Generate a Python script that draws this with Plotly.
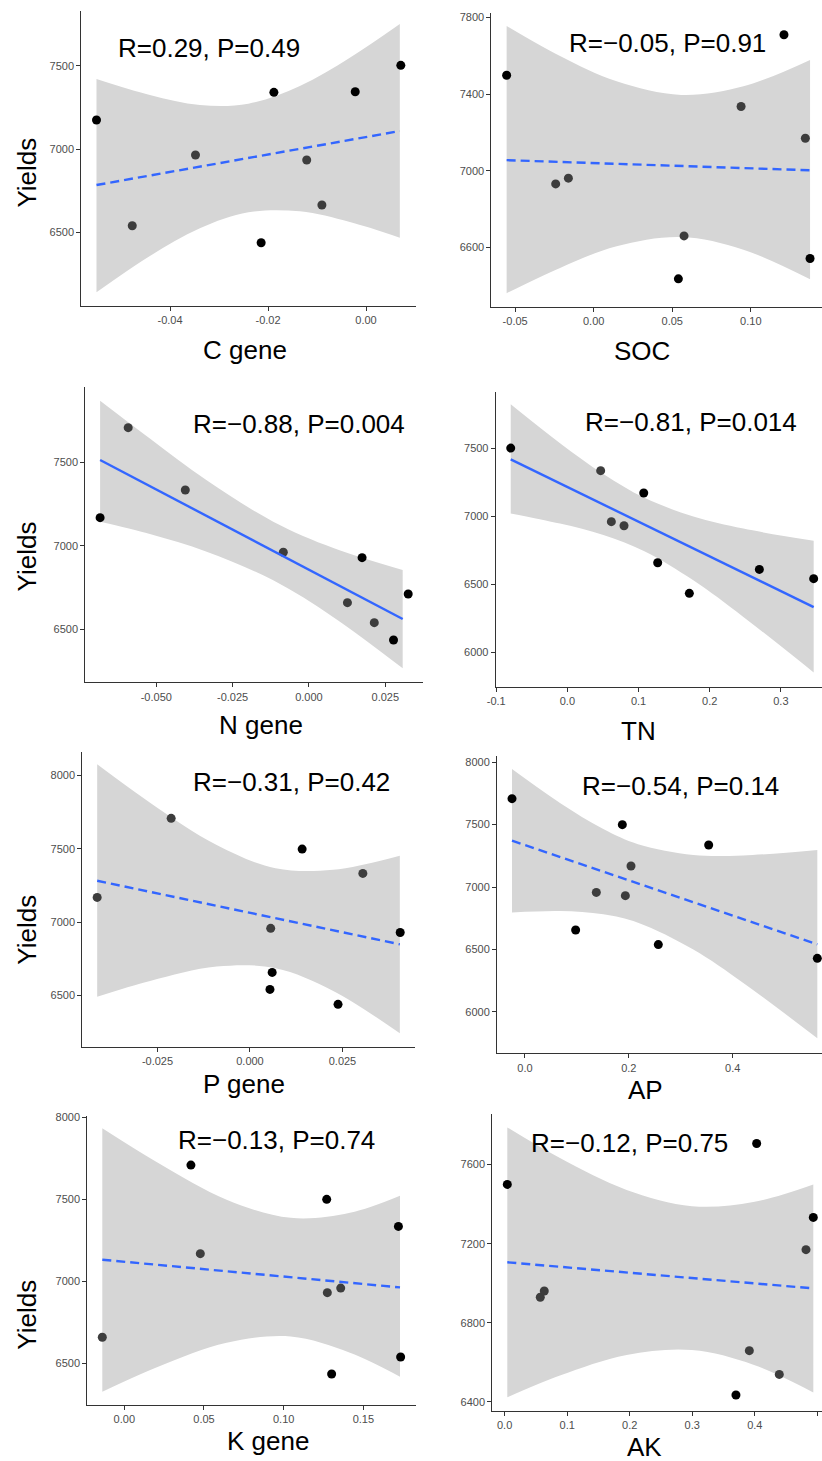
import plotly.graph_objects as go

W, H = 822, 1461
FONT = "Liberation Sans, Arial, Helvetica, sans-serif"

# ---- values ----
# C gene
c_gene_x = [-0.0550, -0.0477, -0.0348, -0.0214, -0.0188, -0.0121, -0.0090, -0.0022, 0.0071]
c_gene_yield = [7174, 6540, 6964, 6438, 7340, 6934, 6664, 7344, 7502]
c_gene_band_x = [-0.0550, -0.0441, -0.0339, -0.0240, -0.0135, -0.0033, 0.0069]
c_gene_band_hi = [7420, 7324, 7264, 7272, 7378, 7548, 7750]
c_gene_band_lo = [6140, 6358, 6524, 6620, 6626, 6562, 6468]
c_gene_fit = [6784, 7108]
c_gene_stat = "R=0.29, P=0.49"

# SOC
soc_x = [-0.0554, -0.0242, -0.0161, 0.0539, 0.0575, 0.0938, 0.1211, 0.1347, 0.1377]
soc_yield = [7499, 6932, 6962, 6437, 6661, 7336, 7710, 7170, 6543]
soc_band_x = [-0.0554, -0.0214, 0.0146, 0.0556, 0.0953, 0.1377]
soc_band_hi = [7756, 7599, 7467, 7396, 7441, 7579]
soc_band_lo = [6362, 6494, 6607, 6655, 6589, 6435]
soc_fit = [7056, 7003]
soc_stat = "R=\u22120.05, P=0.91"

# N gene
n_gene_x = [-0.0684, -0.0592, -0.0405, -0.0084, 0.0126, 0.0174, 0.0214, 0.0277, 0.0325]
n_gene_yield = [7170, 7710, 7336, 6962, 6660, 6930, 6540, 6436, 6712]
n_gene_band_x = [-0.0684, -0.0521, -0.0335, -0.0117, 0.0080, 0.0307]
n_gene_band_hi = [7872, 7645, 7394, 7146, 6988, 6856]
n_gene_band_lo = [7146, 7072, 6966, 6794, 6573, 6266]
n_gene_fit = [7516, 6562]
n_gene_stat = "R=\u22120.88, P=0.004"

# TN
tn_x = [-0.0796, 0.0468, 0.0618, 0.0796, 0.1073, 0.1269, 0.1714, 0.2698, 0.3461]
tn_yield = [7502, 7336, 6961, 6931, 7172, 6659, 6434, 6610, 6542]
tn_band_x = [-0.0796, -0.0103, 0.0506, 0.1082, 0.1770, 0.2473, 0.3461]
tn_band_hi = [7824, 7538, 7311, 7136, 6999, 6910, 6821]
tn_band_lo = [7022, 6947, 6863, 6744, 6530, 6261, 5853]
tn_fit = [7419, 6333]
tn_stat = "R=\u22120.81, P=0.014"

# P gene
p_gene_x = [-0.0413, -0.0213, 0.0056, 0.0141, 0.0060, 0.0054, 0.0238, 0.0305, 0.0406]
p_gene_yield = [7168, 7708, 6957, 7498, 6656, 6540, 6438, 7332, 6929]
p_gene_band_x = [-0.0413, -0.0270, -0.0090, 0.0069, 0.0225, 0.0405]
p_gene_band_hi = [8077, 7815, 7526, 7368, 7357, 7453]
p_gene_band_lo = [6490, 6598, 6696, 6685, 6530, 6240]
p_gene_fit = [7282, 6848]
p_gene_stat = "R=\u22120.31, P=0.42"

# AP
ap_x = [-0.0250, 0.0976, 0.1374, 0.1875, 0.1933, 0.2042, 0.2568, 0.3538, 0.5631]
ap_yield = [7707, 6656, 6957, 7499, 6931, 7168, 6539, 7336, 6429]
ap_band_x = [-0.0250, 0.0674, 0.1509, 0.2177, 0.3242, 0.4205, 0.5631]
ap_band_hi = [7944, 7673, 7464, 7343, 7257, 7253, 7296]
ap_band_lo = [6795, 6807, 6781, 6714, 6499, 6232, 5789]
ap_fit = [7371, 6541]
ap_stat = "R=\u22120.54, P=0.14"

# K gene
k_gene_x = [-0.0138, 0.0418, 0.0477, 0.1270, 0.1274, 0.1358, 0.1301, 0.1720, 0.1734]
k_gene_yield = [6659, 7709, 7169, 7500, 6931, 6959, 6435, 7335, 6539]
k_gene_band_x = [-0.0138, 0.0224, 0.0642, 0.1044, 0.1416, 0.1730]
k_gene_band_hi = [7933, 7715, 7498, 7387, 7418, 7522]
k_gene_band_lo = [6327, 6484, 6625, 6664, 6565, 6419]
k_gene_fit = [7132, 6963]
k_gene_stat = "R=\u22120.13, P=0.74"

# AK
ak_x = [0.0043, 0.0570, 0.0634, 0.3699, 0.3913, 0.4030, 0.4392, 0.4819, 0.4936]
ak_yield = [7500, 6929, 6961, 6435, 6659, 7707, 6539, 7170, 7333]
ak_band_x = [0.0043, 0.0885, 0.1951, 0.2996, 0.3977, 0.4936]
ak_band_hi = [7788, 7633, 7472, 7390, 7411, 7500]
ak_band_lo = [6423, 6533, 6637, 6662, 6588, 6448]
ak_fit = [7106, 6974]
ak_stat = "R=\u22120.12, P=0.75"

# point tone per panel: 1 = black, 0 = dark grey
c_gene_tone = [1, 0, 0, 1, 1, 0, 0, 1, 1]
soc_tone = [1, 0, 0, 1, 0, 0, 1, 0, 1]
n_gene_tone = [1, 0, 0, 0, 0, 1, 0, 1, 1]
tn_tone = [1, 0, 0, 0, 1, 1, 1, 1, 1]
p_gene_tone = [0, 0, 0, 1, 1, 1, 1, 0, 1]
ap_tone = [1, 1, 0, 1, 0, 0, 1, 1, 1]
k_gene_tone = [0, 1, 0, 1, 0, 0, 1, 1, 1]
ak_tone = [1, 0, 0, 1, 0, 1, 0, 0, 1]

panels = [
    dict(name="C gene", x=c_gene_x, y=c_gene_yield, tone=c_gene_tone, bx=c_gene_band_x,
         hi=c_gene_band_hi, lo=c_gene_band_lo, fit=c_gene_fit, stat=c_gene_stat, dash=True,
         box=(81.3, 416, 10.7, 305.7), xr=[-0.0581, 0.0102], yr=[6060, 7830],
         xt=[-0.04, -0.02, 0.0], xl=["-0.04", "-0.02", "0.00"], yt=[6500, 7000, 7500],
         stat_xy=(208.7, 48.3), title_xy=(245.3, 350), ylab=(27.3, 172.3)),
    dict(name="SOC", x=soc_x, y=soc_yield, tone=soc_tone, bx=soc_band_x,
         hi=soc_band_hi, lo=soc_band_lo, fit=soc_fit, stat=soc_stat, dash=True,
         box=(491.4, 822, 13.3, 307), xr=[-0.0651, 0.1453], yr=[6290, 7822],
         xt=[-0.05, 0.0, 0.05, 0.10], xl=["-0.05", "0.00", "0.05", "0.10"],
         yt=[6600, 7000, 7400, 7800],
         stat_xy=(667.7, 43.3), title_xy=(641.7, 350.7), ylab=None),
    dict(name="N gene", x=n_gene_x, y=n_gene_yield, tone=n_gene_tone, bx=n_gene_band_x,
         hi=n_gene_band_hi, lo=n_gene_band_lo, fit=n_gene_fit, stat=n_gene_stat, dash=False,
         box=(85.3, 423.3, 387.3, 682.3), xr=[-0.07325, 0.03745], yr=[6182, 7952],
         xt=[-0.05, -0.025, 0.0, 0.025], xl=["-0.050", "-0.025", "0.000", "0.025"],
         yt=[6500, 7000, 7500],
         stat_xy=(299.3, 424), title_xy=(260.5, 724.6), ylab=(26.7, 556.7)),
    dict(name="TN", x=tn_x, y=tn_yield, tone=tn_tone, bx=tn_band_x,
         hi=tn_band_hi, lo=tn_band_lo, fit=tn_fit, stat=tn_stat, dash=False,
         box=(495.7, 822, 392.3, 686.7), xr=[-0.1007, 0.3578], yr=[5748, 7912],
         xt=[-0.1, 0.0, 0.1, 0.2, 0.3], xl=["-0.1", "0.0", "0.1", "0.2", "0.3"],
         yt=[6000, 6500, 7000, 7500],
         stat_xy=(691, 422.3), title_xy=(638, 731), ylab=None),
    dict(name="P gene", x=p_gene_x, y=p_gene_yield, tone=p_gene_tone, bx=p_gene_band_x,
         hi=p_gene_band_hi, lo=p_gene_band_lo, fit=p_gene_fit, stat=p_gene_stat, dash=True,
         box=(82.3, 415.3, 751.7, 1046.7), xr=[-0.04532, 0.04468], yr=[6149, 8163],
         xt=[-0.025, 0.0, 0.025], xl=["-0.025", "0.000", "0.025"],
         yt=[6500, 7000, 7500, 8000],
         stat_xy=(291, 782.3), title_xy=(244, 1084), ylab=(26.7, 930)),
    dict(name="AP", x=ap_x, y=ap_yield, tone=ap_tone, bx=ap_band_x,
         hi=ap_band_hi, lo=ap_band_lo, fit=ap_fit, stat=ap_stat, dash=True,
         box=(497, 822, 755.7, 1053.3), xr=[-0.0539, 0.5721], yr=[5669, 8051],
         xt=[0.0, 0.2, 0.4], xl=["0.0", "0.2", "0.4"],
         yt=[6000, 6500, 7000, 7500, 8000],
         stat_xy=(680.3, 785.7), title_xy=(645, 1090), ylab=None),
    dict(name="K gene", x=k_gene_x, y=k_gene_yield, tone=k_gene_tone, bx=k_gene_band_x,
         hi=k_gene_band_hi, lo=k_gene_band_lo, fit=k_gene_fit, stat=k_gene_stat, dash=True,
         box=(87.3, 415.7, 1115.7, 1405), xr=[-0.02322, 0.18285], yr=[6246, 8010],
         xt=[0.0, 0.05, 0.10, 0.15], xl=["0.00", "0.05", "0.10", "0.15"],
         yt=[6500, 7000, 7500, 8000],
         stat_xy=(276.7, 1140), title_xy=(268.3, 1441), ylab=(26.7, 1315)),
    dict(name="AK", x=ak_x, y=ak_yield, tone=ak_tone, bx=ak_band_x,
         hi=ak_band_hi, lo=ak_band_lo, fit=ak_fit, stat=ak_stat, dash=True,
         box=(492.3, 822, 1114, 1411), xr=[-0.0197, 0.5075], yr=[6354, 7856],
         xt=[0.0, 0.1, 0.2, 0.3, 0.4, 0.5], xl=["0.0", "0.1", "0.2", "0.3", "0.4", "0.5"],
         yt=[6400, 6800, 7200, 7600],
         stat_xy=(629, 1143.3), title_xy=(644.3, 1446.5), ylab=None),
]

fig = go.Figure()
annotations = []
axis_common = dict(showgrid=False, zeroline=False, showline=True, linecolor="#333333",
                   linewidth=1, ticks="outside", ticklen=4, tickwidth=1, tickcolor="#333333",
                   tickfont=dict(family=FONT, size=11, color="#4d4d4d"),
                   automargin=False, fixedrange=True)

for i, p in enumerate(panels, start=1):
    xa = "x" if i == 1 else f"x{i}"
    ya = "y" if i == 1 else f"y{i}"
    l, r, t, b = p["box"]

    # confidence band (ggplot grey60 at alpha 0.4)
    fig.add_trace(go.Scatter(x=p["bx"], y=p["lo"], mode="lines", xaxis=xa, yaxis=ya,
                             line=dict(width=0, shape="spline", color="rgba(0,0,0,0)"),
                             showlegend=False, hoverinfo="skip"))
    fig.add_trace(go.Scatter(x=p["bx"], y=p["hi"], mode="lines", xaxis=xa, yaxis=ya,
                             line=dict(width=0, shape="spline", color="rgba(0,0,0,0)"),
                             fill="tonexty", fillcolor="#d6d6d6",
                             showlegend=False, hoverinfo="skip"))
    colors = ["#000000" if k else "#3d3d3d" for k in p["tone"]]
    fig.add_trace(go.Scatter(x=p["x"], y=p["y"], mode="markers", xaxis=xa, yaxis=ya,
                             marker=dict(size=9, color=colors, line=dict(width=0)),
                             cliponaxis=False, showlegend=False, hoverinfo="skip"))
    # fitted line
    fig.add_trace(go.Scatter(x=[p["bx"][0], p["bx"][-1]], y=p["fit"], mode="lines",
                             xaxis=xa, yaxis=ya,
                             line=dict(color="#3366FF", width=2.4,
                                       dash="9px,5px" if p["dash"] else "solid"),
                             showlegend=False, hoverinfo="skip"))

    xkey = "xaxis" if i == 1 else f"xaxis{i}"
    ykey = "yaxis" if i == 1 else f"yaxis{i}"
    fig.update_layout(**{
        xkey: dict(axis_common, domain=[l / W, r / W], range=p["xr"], anchor=ya,
                   tickmode="array", tickvals=p["xt"], ticktext=p["xl"]),
        ykey: dict(axis_common, domain=[1 - b / H, 1 - t / H], range=p["yr"], anchor=xa,
                   tickmode="array", tickvals=p["yt"], ticktext=[str(v) for v in p["yt"]]),
    })

    sx, sy = p["stat_xy"]
    annotations.append(dict(text=p["stat"], x=sx / W, y=1 - sy / H, xref="paper", yref="paper",
                            xanchor="center", yanchor="middle", showarrow=False,
                            font=dict(family=FONT, size=26, color="black")))
    tx, ty = p["title_xy"]
    annotations.append(dict(text=p["name"], x=tx / W, y=1 - ty / H, xref="paper", yref="paper",
                            xanchor="center", yanchor="middle", showarrow=False,
                            font=dict(family=FONT, size=26, color="black")))
    if p["ylab"]:
        lx, ly = p["ylab"]
        annotations.append(dict(text="Yields", x=lx / W, y=1 - ly / H, xref="paper",
                                yref="paper", xanchor="center", yanchor="middle",
                                textangle=-90, showarrow=False,
                                font=dict(family=FONT, size=26, color="black")))

fig.update_layout(width=W, height=H, autosize=False,
                  margin=dict(l=0, r=0, t=0, b=0, pad=0),
                  paper_bgcolor="white", plot_bgcolor="white",
                  annotations=annotations, showlegend=False)

# drop the default 8px body margin so the figure sits at the page corner
fig.write_html("out.html", config={"displayModeBar": False},
               post_script="document.body.style.margin='0';"
                           "document.body.style.overflow='hidden';")
